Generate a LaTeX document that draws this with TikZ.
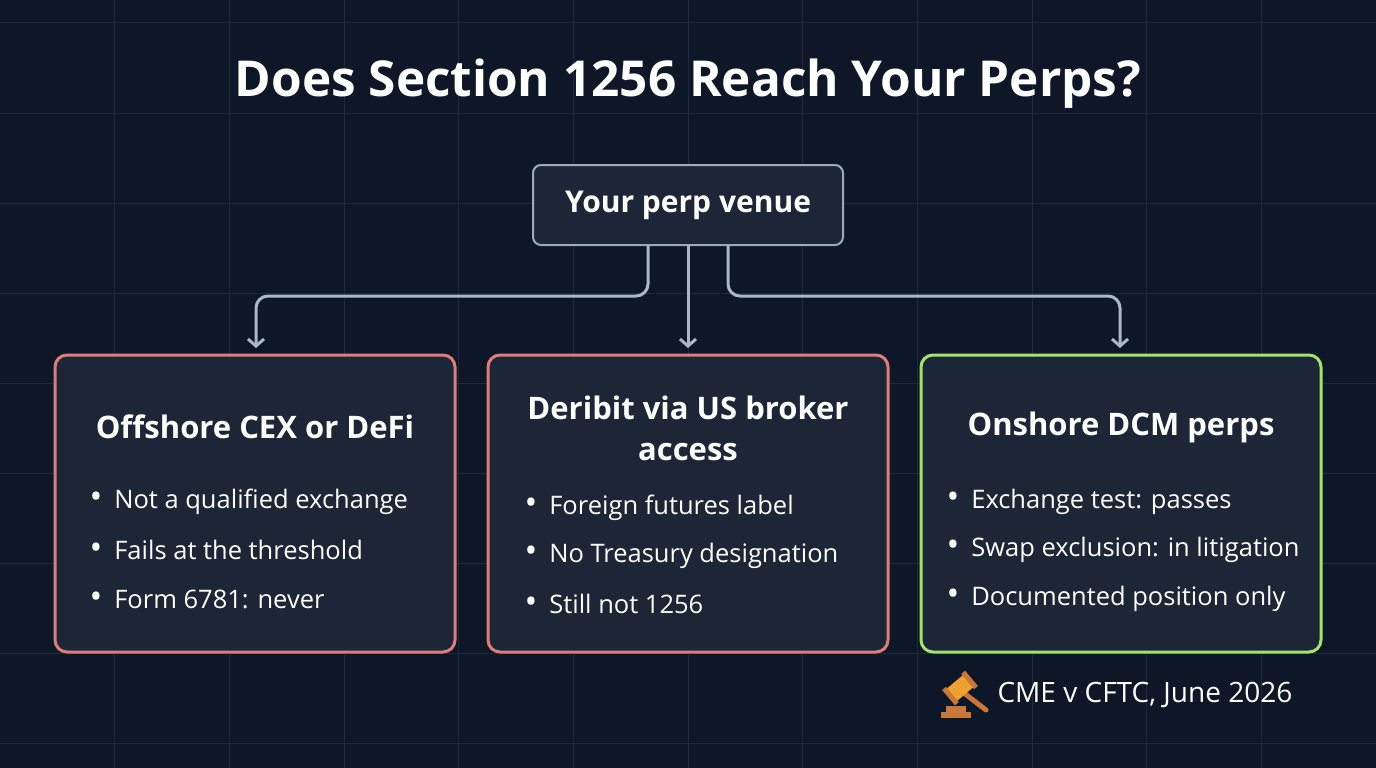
\documentclass[tikz,border=0pt]{standalone}
\usepackage{fontspec}
\setmainfont{Open Sans}
\usetikzlibrary{arrows.meta}
\definecolor{bg}{HTML}{0E1727}
\definecolor{gridc}{HTML}{1E2A3C}
\definecolor{boxf}{HTML}{1C2636}
\definecolor{topb}{HTML}{9AAABF}
\definecolor{redb}{HTML}{E07B7B}
\definecolor{greenb}{HTML}{A6E06E}
\definecolor{arr}{HTML}{A9B8CC}
\definecolor{gold}{HTML}{F0A030}
\definecolor{brown}{HTML}{C8783A}
\tikzset{
 x=1pt,y=-1pt,
 card/.style={draw, line width=3pt, rounded corners=12pt, fill=boxf},
 conn/.style={draw=arr, line width=3pt, rounded corners=12pt, -{Straight Barb[length=7pt,width=16pt,line width=3pt]}},
 ttl/.style={text=white, font=\bfseries\fontsize{31}{41}\selectfont, align=center},
 itm/.style={text=white, font=\fontsize{25.5}{30}\selectfont, anchor=west},
}
\newcommand{\bul}{{\fontsize{34}{30}\selectfont\textbullet}\hspace{12pt}}
\begin{document}
\begin{tikzpicture}
\fill[bg] (0,0) rectangle (1376,768);
\useasboundingbox (0,0) rectangle (1376,768);
\foreach \i in {1,...,11} \draw[gridc, line width=1pt] (\i*114.67,0) -- (\i*114.67,768);
\foreach \j in {23,113,203,293,383,473,563,653,743} \draw[gridc, line width=1pt] (0,\j) -- (1376,\j);
\node[text=white, font=\bfseries\fontsize{49.5}{56}\selectfont] (title) at (688,84) {Does Section 1256 Reach Your Perps?};
\node[card, draw=topb, line width=2pt, rounded corners=8pt, minimum width=310pt, minimum height=80pt, text=white, font=\bfseries\fontsize{30}{36}\selectfont] (top) at (688,205) {Your perp venue};
\node[card, draw=redb, minimum width=400pt, minimum height=297pt] (L) at (255,503.5) {};
\node[card, draw=redb, minimum width=400pt, minimum height=297pt] (M) at (688,503.5) {};
\node[card, draw=greenb, minimum width=400pt, minimum height=297pt] (R) at (1121,503.5) {};
\coordinate (sL) at (648,245); \coordinate (sR) at (728,245);
\draw[conn] (sL) -- (648,296) -- (256,296) -- (256,348);
\draw[conn] (top.south) -- (688,348);
\draw[conn] (sR) -- (728,296) -- (1120,296) -- (1120,348);
\node[ttl] (tL) at (255,427) {Offshore CEX or DeFi};
\node[ttl] (tM) at (688,428) {Deribit via US broker\\access};
\node[ttl] (tR) at (1121,427) {Onshore DCM perps};
\foreach \t/\y in {Not a qualified exchange/502, Fails at the threshold/550, Form 6781: never/599}
  \node[itm] at (86,\y) {\bul\t};
\foreach \t/\y in {Foreign futures label/508, No Treasury designation/556, Still not 1256/604}
  \node[itm] at (521,\y) {\bul\t};
\foreach \t/\y in {Exchange test: passes/502, Swap exclusion: in litigation/550, Documented position only/599}
  \node[itm] at (943,\y) {\bul\t};
% gavel
\fill[brown] (941,712) rectangle (971,718);
\fill[brown] (946,706) rectangle (966,712);
\draw[brown, line width=5pt, line cap=round] (960,690) -- (986,710);
\fill[gold, rotate around={40:(960,688)}] (948,680) rectangle (972,696);
\fill[brown, rotate around={40:(960,688)}] (945,678) rectangle (950,698);
\fill[brown, rotate around={40:(960,688)}] (970,678) rectangle (975,698);
\node[text=white, font=\fontsize{28}{30}\selectfont, anchor=west] (note) at (994,695) {CME v CFTC, June 2026};
\end{tikzpicture}
\end{document}
